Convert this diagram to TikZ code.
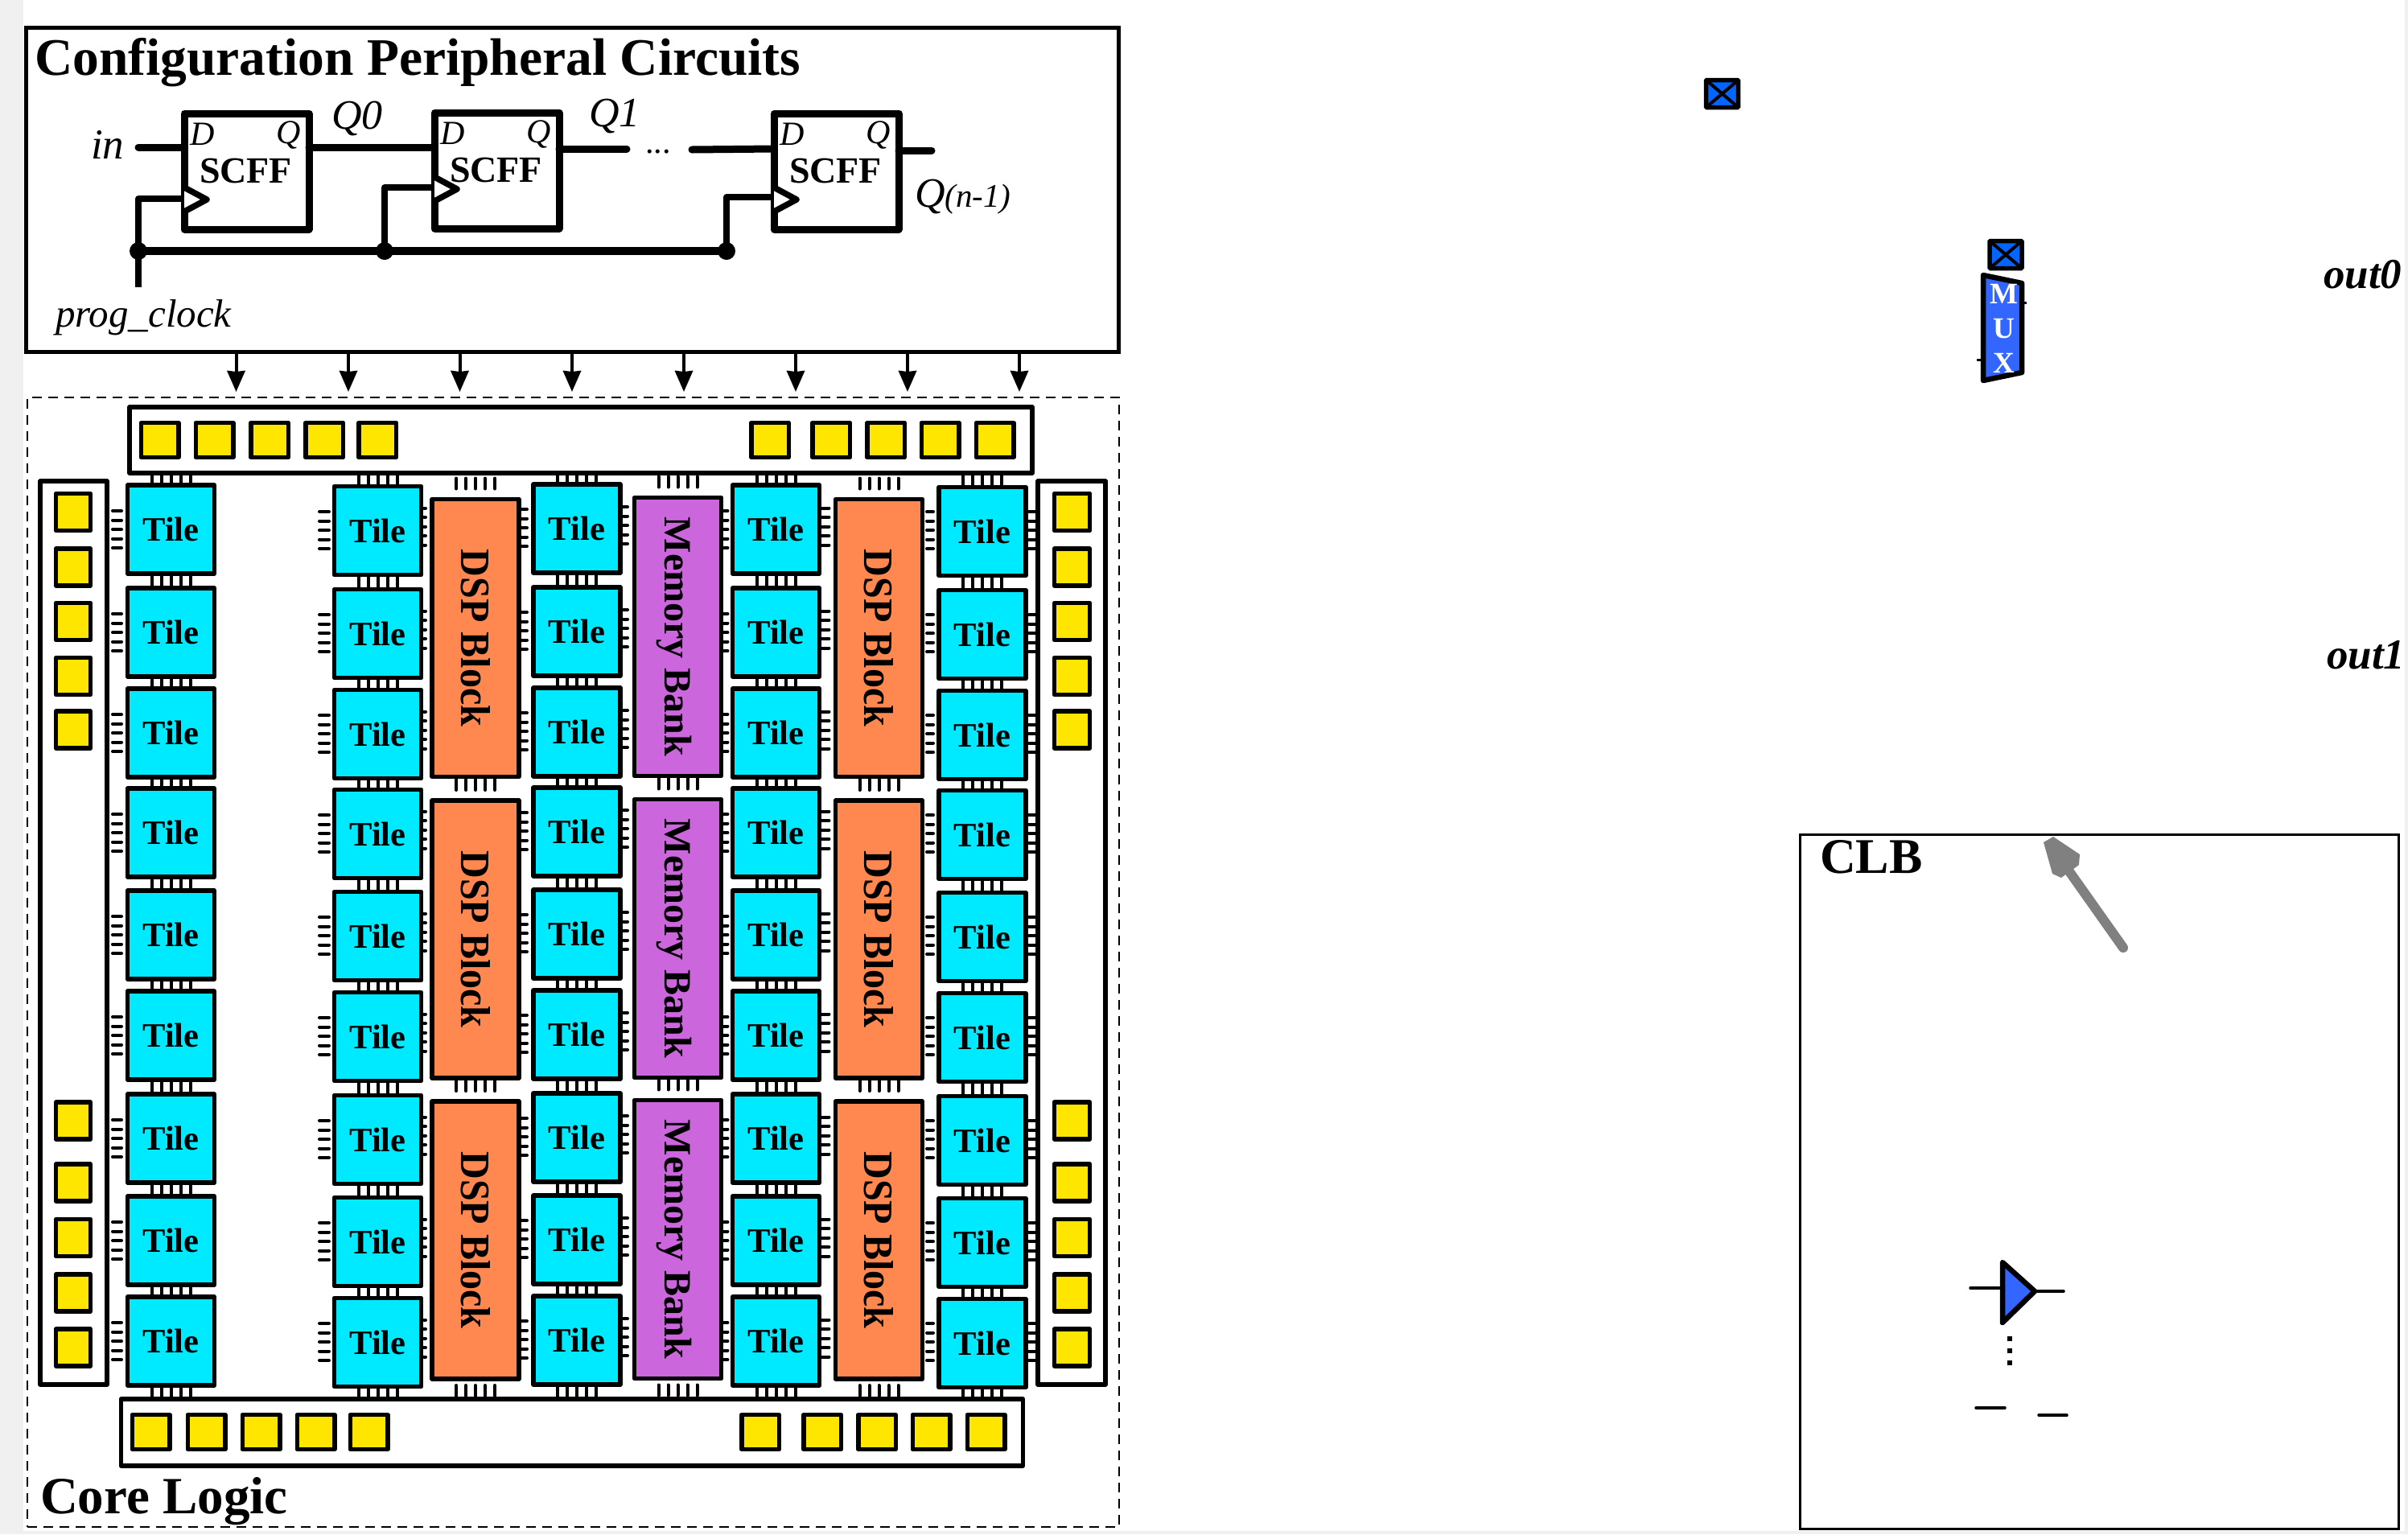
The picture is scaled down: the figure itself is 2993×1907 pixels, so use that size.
\documentclass[tikz,border=0pt]{standalone}
\usepackage{fontspec}
\usepackage{graphicx}
\setmainfont{Liberation Serif}
\usetikzlibrary{arrows.meta,calc}
\definecolor{tilecyan}{HTML}{00EAFF}
\definecolor{dsporange}{HTML}{FF8850}
\definecolor{mempurple}{HTML}{CC66DD}
\definecolor{padyellow}{HTML}{FFE600}
\definecolor{swblue}{HTML}{0066FF}
\definecolor{muxblue}{HTML}{3366FF}
\definecolor{pagegrey}{HTML}{F0F0F0}
\definecolor{arrowgrey}{HTML}{808080}
\newcommand\fsz[1]{\fontsize{#1}{#1}\selectfont}
\newcommand\hticks[4]{% node, x1, x2, yshift up
  \foreach \dd in {-23,-11.5,0,11.5,23}{
    \draw[htick] ([xshift=#2pt,yshift=#4pt+\dd pt]#1.center) -- ([xshift=#3pt,yshift=#4pt+\dd pt]#1.center);}}
\newcommand\bticks[4]{% node, anchor, from, to (shift up)
  \foreach \dd in {-24,-12,0,12,24}{
    \draw[btick] ([xshift=\dd pt,yshift=#3pt]#1.#2) -- ([xshift=\dd pt,yshift=#4pt]#1.#2);}}
\tikzset{
  x=1pt,y=-1pt,
  boxbase/.style={draw=black,line width=5.5pt,inner sep=0pt,outer sep=0pt,line join=round},
  tile/.style={boxbase,fill=tilecyan,minimum width=108pt,minimum height=110pt,font=\bfseries\fsz{42.5}},
  dspbox/.style={boxbase,fill=dsporange,minimum width=108pt,minimum height=345pt,font=\bfseries\fsz{48}},
  membox/.style={boxbase,fill=mempurple,minimum width=108pt,minimum height=346pt,font=\bfseries\fsz{48}},
  pad/.style={boxbase,fill=padyellow},
  barbox/.style={boxbase,fill=white},
  ffbox/.style={draw=black,line width=9pt,fill=white,inner sep=0pt,outer sep=0pt,minimum width=155pt,minimum height=144pt,line join=round},
  swbox/.style={draw=black,line width=5.5pt,fill=swblue,inner sep=0pt,outer sep=0pt,minimum width=40pt,minimum height=34pt,rounded corners=1pt},
  wire/.style={line width=9pt,line cap=round,line join=round},
  clkwire/.style={line width=7.5pt,line join=round},
  dot/.style={circle,fill=black,inner sep=0pt,minimum size=22pt},
  txt/.style={inner sep=0pt,outer sep=0pt,anchor=base west},
  vtick/.style={line width=4pt},
  htick/.style={line width=4pt,line cap=round,shorten >=2pt,shorten <=2pt},
  btick/.style={line width=4pt,line cap=round,shorten >=2pt,shorten <=2pt},
  arr/.style={line width=4pt,-{Stealth[length=26pt,width=22pt,inset=1pt]}},
  shortline/.style={line width=3.5pt,line cap=round},
}
\begin{document}
\begin{tikzpicture}
\useasboundingbox (0,0) rectangle (2993,1907);
\fill[pagegrey] (0,0) rectangle (2993,1907);
\fill[white] (29,0) rectangle (2989,1903);

% configuration box
\node[draw=black,line width=5pt,fill=white,inner sep=0pt,outer sep=0pt,minimum width=1358pt,minimum height=403pt] (cfg) at (711,235.5) {};
\node[txt,font=\bfseries\fsz{65.5}] (cfgt) at (43,93) {Configuration Peripheral Circuits};

% flip flops
\node[ffbox] (ff1) at (306.5,213) {};
\node[ffbox] (ff2) at (617.5,212) {};
\node[ffbox] (ff3) at (1039.5,213) {};
\foreach \n/\dx/\b in {1/306.5/0,2/617.5/-1,3/1039.5/0}{
  \node[txt,font=\itshape\fsz{42}] (d\n) at (\dx-70,180+\b) {D};
  \node[txt,font=\itshape\fsz{42}] (q\n) at (\dx+37,178+\b) {Q};
  \node[txt,font=\bfseries\fsz{46},anchor=base] (s\n) at (\dx-1,227+\b) {SCFF};
}
\coordinate (c1) at (172,312);
\coordinate (c2) at (478,312);
\coordinate (c3) at (903,312);
\coordinate (cin) at (172,357);
\coordinate (inw) at (172,183);
\coordinate (q1w) at (779,185);
\coordinate (dwa) at (860,186);
\coordinate (q3w) at (1158,187);
\draw[wire] (inw) -- (ff1.west |- inw);
\draw[wire] (ff1.east |- 0,183) -- (ff2.west |- 0,183);
\draw[wire] (ff2.east |- q1w) -- (q1w);
\draw[wire] (dwa) -- (ff3.west |- 0,185);
\draw[wire] (ff3.east |- q3w) -- (q3w);
\draw[clkwire] (cin) -- (172,247) -- (ff1.west |- 0,247);
\draw[clkwire] (c2) -- (478,233) -- (ff2.west |- 0,233);
\draw[clkwire] (c3) -- (903,245) -- (ff3.west |- 0,245);
\draw[line width=9.5pt] (c1) -- (c3);
\node[dot] (dc1) at (c1) {};
\node[dot] (dc2) at (c2) {};
\node[dot] (dc3) at (c3) {};
\foreach \xx/\yy in {229/248,540/235,962/248}{
  \draw[line width=7.5pt,line join=round,fill=white] (\xx,\yy-15) -- (\xx+28,\yy) -- (\xx,\yy+15);
}
\node[txt,font=\itshape\fsz{53}] (lin) at (113,197) {in};
\node[txt,font=\itshape\fsz{52}] (lq0) at (412,160) {Q0};
\node[txt,font=\itshape\fsz{52}] (lq1) at (732,157) {Q1};
\node[txt,font=\itshape\fsz{52}] (lqn) at (1137,257) {Q{\fsz{41}(n-1)}};
\node[txt,font=\itshape\fsz{49}] (lclk) at (69,406) {prog\_clock};
\node[txt,font=\fsz{42}] (ldots) at (802,190) {...};

% arrows config -> core
\foreach \i/\x in {1/293.5,2/433,3/571.5,4/711,5/850,6/989,7/1128,8/1267}{
  \coordinate (as\i) at (\x,437);
  \coordinate (ae\i) at (\x,487);
  \draw[arr] (as\i) -- (ae\i);
}

% core logic box
\node[draw=black,line width=2.5pt,dash pattern=on 12pt off 8pt,inner sep=0pt,outer sep=0pt,minimum width=1357pt,minimum height=1404pt] (core) at (712.5,1196) {};
\node[txt,font=\bfseries\fsz{65}] (coret) at (50,1881) {Core Logic};

% pad bars
\node[barbox,minimum width=1122pt,minimum height=82pt] (topbar) at (722,547) {};
\node[barbox,minimum width=1121pt,minimum height=83pt] (botbar) at (711,1780.5) {};
\node[barbox,minimum width=83pt,minimum height=1123pt] (leftbar) at (91.5,1159.5) {};
\node[barbox,minimum width=84pt,minimum height=1123pt] (rightbar) at (1332,1159.5) {};
% top/bottom pads
\foreach \x [count=\i] in {198.5,266.5,335,403,469,957,1033,1101,1168.5,1236.5}{
  \node[pad,minimum width=46.5pt,minimum height=43pt] (pt\i) at (\x,547) {};
}
\foreach \x [count=\i] in {187.5,256.5,324.5,392.5,458.5,945,1022,1090,1157.5,1225.5}{
  \node[pad,minimum width=46.5pt,minimum height=43pt] (pb\i) at (\x,1780) {};
}
% side pads
\foreach \y [count=\i] in {636.5,705,772.5,840.5,907,1393,1470,1538.5,1607,1675}{
  \node[pad,minimum width=43pt,minimum height=46pt] (pl\i) at (91,\y) {};
  \node[pad,minimum width=44pt,minimum height=46pt] (pr\i) at (1332.5,\y) {};
}

% tiles and vertical links
\foreach \c/\cx/\off in {1/212.5/0,2/469.5/1.5,3/717/-1,4/964.5/0,5/1221/2.5}{
  \foreach \r/\ry in {1/658,2/786,3/911,4/1035,5/1162,6/1287,7/1415,8/1542,9/1667}{
    \node[tile] (t\c-\r) at (\cx,\ry+\off) {Tile};
  }
  \foreach \dd in {-24,-12,0,12,24}{
    \draw[vtick] ([xshift=\dd pt]topbar.south -| t\c-1.north) -- ([xshift=\dd pt]t\c-1.north);
    \draw[vtick] ([xshift=\dd pt]t\c-9.south) -- ([xshift=\dd pt]botbar.north -| t\c-9.south);
  }
  \foreach \r [evaluate=\r as \rn using int(\r+1)] in {1,...,8}{
    \foreach \dd in {-24,-12,0,12,24}{
      \draw[vtick] ([xshift=\dd pt]t\c-\r.south) -- ([xshift=\dd pt]t\c-\rn.north);
    }
  }
}

% DSP + memory blocks
\foreach \n/\y in {1/793,2/1167.5,3/1541.5}{
  \node[dspbox] (da\n) at (591,\y) {\rotatebox{-90}{\scalebox{1}[1.08]{DSP Block}}};
  \node[dspbox] (db\n) at (1092.5,\y) {\rotatebox{-90}{\scalebox{1}[1.08]{DSP Block}}};
}
\foreach \n/\y in {1/791.5,2/1166.5,3/1540.5}{
  \node[membox] (m\n) at (842.5,\y) {\rotatebox{-90}{\raisebox{0pt}[33pt][0pt]{Memory Bank}}};
}
\foreach \b in {da,db,m}{
  \foreach \n in {1,2,3}{
    \bticks{\b\n}{north}{11}{28}
  }
  \bticks{\b3}{south}{-6}{-23}
}

% horizontal links
\foreach \r in {1,...,9}{
  \hticks{t1-\r}{-74.5}{-59.5}{0}
  \hticks{t2-\r}{-74.5}{-58.5}{0.5}
  \hticks{t2-\r}{55.5}{61.5}{5}
  \hticks{t3-\r}{-75}{-60}{1}
  \hticks{t3-\r}{56}{65}{4}
  \hticks{t4-\r}{-67}{-58}{0}
  \hticks{t4-\r}{53}{68}{3.5}
  \hticks{t5-\r}{-71}{-59}{1.5}
  \hticks{t5-\r}{56}{69}{1.5}
}

% switch boxes
\node[swbox] (sw1) at (2140.5,116.5) {};
\node[swbox] (sw2) at (2493,316.5) {};
\foreach \s in {sw1,sw2}{
  \draw[line width=4pt] (\s.north west) -- (\s.south east);
  \draw[line width=4pt] (\s.north east) -- (\s.south west);
}

% mux
\coordinate (ma) at (2465,342);
\coordinate (mb) at (2513,352);
\coordinate (mc) at (2513,463);
\coordinate (md) at (2465,473);
\draw[line width=6.5pt,line join=round,fill=muxblue] (ma) -- (mb) -- (mc) -- (md) -- cycle;
\node[inner sep=0pt,align=center,text=white,font=\bfseries\fontsize{37}{43}\selectfont] (muxt) at (2491,408) {M\\U\\X};
\draw[line width=3pt] (2515,376) -- (2519,376);
\draw[line width=3pt] (2457,447) -- (2463,447);

\node[txt,font=\bfseries\itshape\fsz{53}] (out0) at (2888,358) {out0};
\node[txt,font=\bfseries\itshape\fsz{53}] (out1) at (2892,831) {out1};

% CLB
\node[draw=black,line width=3pt,fill=none,inner sep=0pt,outer sep=0pt,minimum width=744pt,minimum height=863pt] (clb) at (2609,1469) {};
\node[txt,font=\bfseries\fsz{62}] (clbt) at (2262,1085) {CLB};
\coordinate (ga) at (2639,1178);
\coordinate (gb) at (2569,1079);
\draw[arrowgrey,line width=12pt,line cap=round] (ga) -- (gb);
\fill[arrowgrey] (2540,1047) -- (2552,1040) -- (2585,1062) -- (2584,1075) -- (2562,1091) -- (2551,1086) -- cycle;

% buffer
\coordinate (bua) at (2489,1569);
\coordinate (bub) at (2529,1605);
\coordinate (buc) at (2489,1644);
\draw[line width=6.5pt,line join=round,fill=muxblue] (bua) -- (bub) -- (buc) -- cycle;
\coordinate (bin) at (2449,1601);
\coordinate (bout) at (2565,1605);
\draw[shortline] (bin) -- (2486,1601);
\draw[shortline] (bub) -- (bout);
\foreach \y in {1664,1679,1694}{
  \fill (2495,\y-3) rectangle (2501,\y+3);
}
\draw[shortline] (2456,1750) -- (2492,1750);
\draw[shortline] (2534,1759) -- (2569,1759);
\end{tikzpicture}
\end{document}
